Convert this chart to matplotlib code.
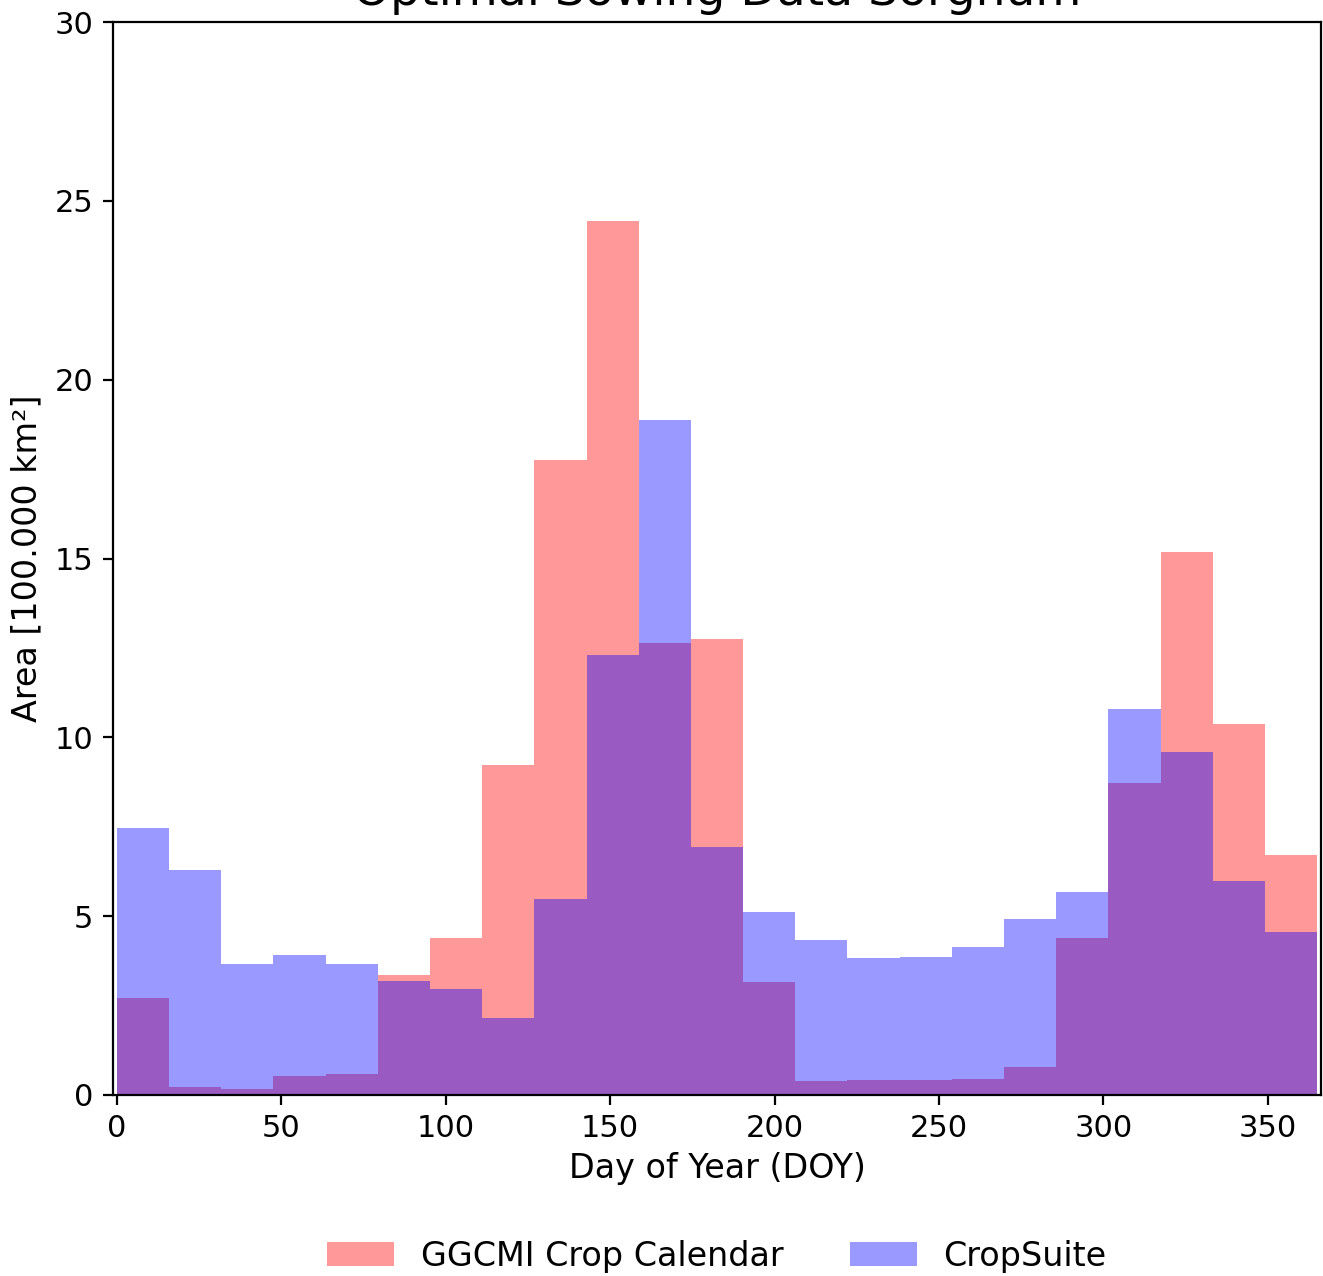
import numpy as np
import matplotlib
matplotlib.use("Agg")
import matplotlib.pyplot as plt

bin_edges = np.linspace(0, 365, 24)

ggcmi = [2.71, 0.22, 0.17, 0.53, 0.59, 3.35, 4.39, 9.23, 17.75, 24.43, 12.64, 12.75,
         3.16, 0.39, 0.42, 0.42, 0.45, 0.78, 4.39, 8.72, 15.18, 10.37, 6.71]
cropsuite = [7.46, 6.29, 3.66, 3.91, 3.66, 3.19, 2.96, 2.15, 5.48, 12.3, 18.87, 6.93,
             5.12, 4.33, 3.83, 3.86, 4.14, 4.92, 5.68, 10.79, 9.59, 5.98, 4.56]

title = "Optimal Sowing Data Sorghum"
xlabel = "Day of Year (DOY)"
ylabel = "Area [100.000 km²]"
labels = ["GGCMI Crop Calendar", "CropSuite"]

centers = 0.5 * (bin_edges[:-1] + bin_edges[1:])

fig = plt.figure(figsize=(6.615, 6.38), dpi=200)
ax = fig.add_axes([113/1323, 181/1276, (1321-113)/1323, (1095-22)/1276])

ax.hist(centers, bins=bin_edges, weights=ggcmi, color="red", alpha=0.4, label=labels[0])
ax.hist(centers, bins=bin_edges, weights=cropsuite, color="blue", alpha=0.4, label=labels[1])

ax.set_xlim(-1.2, 366.2)
ax.set_ylim(0, 30)
ax.set_title(title, fontsize=17)
ax.set_xlabel(xlabel, fontsize=12, labelpad=3)
ax.set_ylabel(ylabel, fontsize=12)
ax.tick_params(labelsize=11)
ax.legend(loc="upper center", bbox_to_anchor=(0.5, -0.107), ncol=2, frameon=False, fontsize=12)

fig.savefig("out.png", dpi=200)
